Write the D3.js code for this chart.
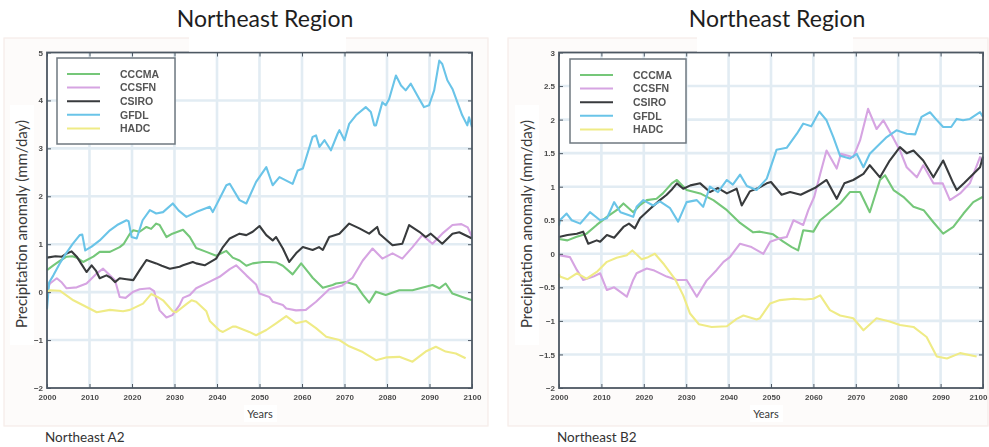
<!DOCTYPE html>
<html>
<head>
<meta charset="utf-8">
<script src="https://cdn.jsdelivr.net/npm/d3@7"></script>
<style>
  body { margin: 0; background: #ffffff; }
  svg { display: block; }
</style>
</head>
<body>
<svg id="chart" width="989" height="447"></svg>
<script>
// ---- data -------------------------------------------------------------
const seriesNames = ["CCCMA", "CCSFN", "CSIRO", "GFDL", "HADC"];
const xTicks = [2000, 2010, 2020, 2030, 2040, 2050, 2060, 2070, 2080, 2090, 2100];
const yTicksA2 = [-2, -1, 0, 1, 2, 3, 4, 5];
const yTicksB2 = [-2, -1.5, -1, -0.5, 0, 0.5, 1, 1.5, 2, 2.5, 3];

// A2 scenario: [year, precipitation anomaly mm/day]
const cccmaA2 = [[2000,0.46],[2001.5,0.56],[2003,0.65],[2004.6,0.74],[2006,0.75],[2007,0.72],[2008.5,0.63],[2010.9,0.74],[2012.4,0.84],[2014.8,0.84],[2017.1,0.94],[2018,1.0],[2019.5,1.22],[2020.3,1.29],[2021.8,1.26],[2023.4,1.36],[2024.5,1.32],[2025.7,1.43],[2026.5,1.40],[2028.1,1.15],[2029.5,1.22],[2032,1.3],[2033.6,1.15],[2035.1,0.92],[2037.5,0.84],[2039.8,0.76],[2042.2,0.86],[2043.7,0.72],[2045.3,0.66],[2046.9,0.55],[2048.4,0.6],[2050.8,0.63],[2052.3,0.63],[2053.9,0.62],[2055.5,0.55],[2057.8,0.37],[2059.8,0.60],[2061.7,0.39],[2062.5,0.3],[2064.9,0.09],[2067.2,0.15],[2068,0.18],[2070.4,0.21],[2072.7,0.15],[2074.3,-0.05],[2075.8,-0.22],[2077.4,0.01],[2079.7,-0.06],[2082.9,0.04],[2086,0.04],[2090.7,0.15],[2092.3,0.08],[2093.8,0.18],[2095.4,-0.03],[2097.7,-0.1],[2100,-0.17]];
const ccsfnA2 = [[2000,0.05],[2000.7,0.18],[2002.3,0.29],[2003.5,0.2],[2004.6,0.08],[2007,0.1],[2009.3,0.18],[2011.7,0.39],[2013.2,0.49],[2014.8,0.35],[2016,0.25],[2017.1,-0.1],[2018.5,-0.12],[2020.3,0.01],[2021.8,0.06],[2024.2,0.08],[2025.2,0.02],[2026.5,-0.38],[2028.1,-0.53],[2029.5,-0.48],[2031.2,-0.27],[2032,-0.12],[2033.6,-0.06],[2035.1,0.08],[2038.3,0.22],[2040.6,0.32],[2043,0.48],[2044.5,0.56],[2046.9,0.35],[2049.2,0.16],[2050,-0.03],[2052.3,-0.1],[2053.1,-0.2],[2055.5,-0.27],[2056.3,-0.34],[2058.6,-0.38],[2060.9,-0.37],[2063.3,-0.2],[2066.4,0.06],[2069.5,0.14],[2071.9,0.3],[2074.3,0.66],[2076.6,0.91],[2078.9,0.7],[2081.3,0.81],[2083.6,0.7],[2086,0.94],[2088.3,1.19],[2090.7,1.01],[2093,1.22],[2095.4,1.4],[2097.5,1.42],[2099,1.35],[2100,1.15]];
const csiroA2 = [[2000,0.72],[2002,0.75],[2003.5,0.74],[2004.5,0.8],[2005.8,0.85],[2007,0.74],[2008,0.6],[2009.3,0.42],[2010.5,0.56],[2011.5,0.45],[2012.4,0.29],[2014,0.35],[2015,0.3],[2016,0.21],[2017.1,0.29],[2018.7,0.27],[2020.3,0.25],[2021.8,0.46],[2023.4,0.67],[2025.7,0.60],[2027,0.55],[2028.9,0.49],[2031.2,0.53],[2032,0.56],[2034.3,0.63],[2035.1,0.60],[2037.1,0.56],[2039.8,0.70],[2041.4,0.94],[2043,1.12],[2045.3,1.22],[2046.9,1.19],[2048.4,1.26],[2050,1.38],[2051.6,1.19],[2053.1,1.08],[2053.9,1.15],[2055.5,0.91],[2057,0.63],[2058.6,0.81],[2060.2,0.94],[2062.5,0.88],[2064,0.94],[2064.9,0.88],[2066.4,1.15],[2068.8,1.22],[2071.1,1.43],[2073.5,1.33],[2075.8,1.22],[2077.7,1.36],[2078.2,1.22],[2081.3,0.98],[2083.6,1.01],[2085.2,1.40],[2087.6,1.26],[2089.1,1.15],[2090.3,1.22],[2093,1.01],[2095.4,1.22],[2097,1.25],[2099.3,1.15],[2100,1.12]];
const gfdlA2 = [[2000,-0.35],[2000.5,0.2],[2001.5,0.35],[2003,0.6],[2004.5,0.81],[2006,1.0],[2007.7,1.19],[2008.3,1.2],[2009,0.87],[2010.5,0.95],[2012.4,1.08],[2014.8,1.29],[2016.5,1.4],[2018.7,1.5],[2019.2,1.48],[2019.9,1.15],[2021.1,1.12],[2022.5,1.5],[2024.2,1.71],[2025.7,1.64],[2027.3,1.67],[2029.6,1.85],[2031,1.7],[2032.8,1.57],[2035.1,1.67],[2038.3,1.78],[2039,1.67],[2042.2,2.23],[2043,2.26],[2045.3,1.92],[2046.9,1.85],[2049.2,2.3],[2051.6,2.61],[2053.1,2.23],[2054.7,2.40],[2057.8,2.26],[2059,2.54],[2060.2,2.58],[2062.5,3.24],[2063.3,3.27],[2064.1,3.03],[2065.3,3.17],[2066.8,2.96],[2068.4,3.31],[2068.8,3.38],[2070,3.17],[2071.1,3.51],[2072.7,3.69],[2075,3.86],[2076.2,3.76],[2077,3.48],[2077.4,3.48],[2078.9,3.96],[2079.7,3.90],[2080.5,4.03],[2082.1,4.52],[2083.3,4.31],[2084.4,4.21],[2085.6,4.35],[2087.6,4.03],[2088.7,3.86],[2089.9,3.90],[2091.1,4.21],[2092.3,4.83],[2093,4.76],[2094.2,4.42],[2095.4,4.24],[2097.7,3.69],[2098.9,3.48],[2099.3,3.65],[2100,3.44]];
const hadcA2 = [[2000,0.0],[2000.7,0.04],[2003,0.03],[2006.2,-0.17],[2009.3,-0.31],[2011.7,-0.42],[2014.8,-0.37],[2017.9,-0.4],[2019.5,-0.37],[2022.6,-0.24],[2024.5,-0.04],[2026,-0.1],[2027.3,-0.17],[2029.6,-0.4],[2030.4,-0.42],[2032.8,-0.25],[2034,-0.17],[2035.1,-0.2],[2037.5,-0.4],[2038.3,-0.6],[2040.6,-0.8],[2041.4,-0.83],[2043.7,-0.72],[2044.5,-0.72],[2047.6,-0.83],[2049.2,-0.9],[2051.6,-0.79],[2053.9,-0.65],[2056.3,-0.5],[2058.6,-0.65],[2060.9,-0.6],[2063.3,-0.75],[2065.7,-0.93],[2068.8,-1.0],[2071.1,-1.13],[2074.3,-1.25],[2077.4,-1.42],[2080,-1.36],[2082.9,-1.35],[2086,-1.45],[2089.1,-1.24],[2091.5,-1.14],[2093.8,-1.24],[2096.2,-1.28],[2098.5,-1.38]];

// B2 scenario
const cccmaB2 = [[2000,0.22],[2002,0.2],[2004,0.25],[2006.5,0.3],[2008.9,0.43],[2011.3,0.55],[2013.6,0.65],[2015.2,0.75],[2017.5,0.62],[2019,0.72],[2020.7,0.8],[2023,0.82],[2024.5,0.9],[2026.6,1.05],[2027.8,1.1],[2030.1,0.95],[2033.3,0.9],[2036.4,0.8],[2039.6,0.65],[2042.7,0.46],[2045.8,0.32],[2047.4,0.33],[2050.5,0.29],[2052.9,0.18],[2054.9,0.1],[2056.4,0.05],[2057.6,0.35],[2060,0.33],[2061.6,0.5],[2063.9,0.62],[2066.3,0.75],[2068.6,0.92],[2071,0.92],[2073.3,0.62],[2075.7,1.1],[2076.9,1.17],[2078.9,0.95],[2081.2,0.85],[2083.6,0.7],[2086,0.65],[2088.3,0.47],[2090.6,0.3],[2093,0.4],[2095.4,0.6],[2097.7,0.77],[2100,0.85]];
const ccsfnB2 = [[2000,-0.02],[2002.6,-0.05],[2004.2,-0.24],[2005.7,-0.39],[2008.1,-0.34],[2009.7,-0.29],[2011.3,-0.54],[2013,-0.5],[2015.2,-0.6],[2016,-0.64],[2017.5,-0.39],[2018.3,-0.29],[2020.7,-0.22],[2022.5,-0.25],[2025.4,-0.34],[2027.8,-0.39],[2030.1,-0.39],[2032.5,-0.64],[2034.8,-0.4],[2037.2,-0.24],[2038.8,-0.12],[2040.3,-0.05],[2042.7,0.15],[2045.4,0.1],[2048.2,0.0],[2049.8,0.18],[2052.1,0.23],[2053.7,0.25],[2055.3,0.5],[2057.6,0.43],[2058.8,0.65],[2060.2,0.85],[2061.6,1.19],[2063.1,1.54],[2065.5,1.27],[2066.5,1.49],[2069.4,1.44],[2071,1.69],[2072.9,2.16],[2074.9,1.86],[2076.5,1.99],[2078.9,1.72],[2080.4,1.54],[2082,1.29],[2084.4,1.14],[2085.9,1.32],[2088.3,1.05],[2090.5,1.05],[2092.2,0.8],[2094.6,0.9],[2096.9,1.05],[2099.3,1.44],[2100,1.34]];
const csiroB2 = [[2000,0.25],[2002,0.28],[2004.2,0.3],[2005.7,0.33],[2006.9,0.15],[2008.9,0.2],[2009.7,0.18],[2011.3,0.28],[2013,0.24],[2015.2,0.4],[2016.5,0.45],[2017.9,0.38],[2019.1,0.53],[2021.5,0.67],[2023.8,0.8],[2025.4,0.88],[2026.5,0.95],[2027.8,1.05],[2029.3,0.97],[2031,1.02],[2033.3,1.05],[2035.6,0.92],[2037.5,0.98],[2039.6,0.9],[2041.9,0.97],[2043.1,0.72],[2045,0.93],[2047,0.98],[2049,1.05],[2050,1.07],[2052.5,0.88],[2054.5,0.92],[2057,0.88],[2060.3,0.98],[2063.1,1.1],[2065.5,0.82],[2067.3,1.05],[2069.4,1.1],[2071.8,1.19],[2073.3,1.32],[2075.7,1.14],[2078,1.39],[2080.4,1.59],[2082,1.5],[2083.6,1.54],[2085.9,1.39],[2088.3,1.14],[2090.6,1.39],[2093,1.05],[2093.8,0.95],[2095.5,1.05],[2097.7,1.19],[2099.3,1.29],[2100,1.45]];
const gfdlB2 = [[2000,0.42],[2000.2,0.5],[2001.8,0.6],[2003,0.5],[2005,0.45],[2007.3,0.62],[2009.7,0.5],[2011.3,0.53],[2013,0.77],[2014.5,0.62],[2016.7,0.57],[2017.5,0.55],[2018.3,0.7],[2019.9,0.8],[2022.2,0.72],[2023.8,0.78],[2026.2,0.68],[2028.1,0.48],[2030.1,0.77],[2032.5,0.8],[2034,0.7],[2035.6,1.0],[2037.5,0.92],[2039.6,1.1],[2041,1.03],[2042.7,1.18],[2044.3,1.01],[2046.6,0.95],[2049,1.12],[2051.3,1.55],[2053.7,1.58],[2056.1,1.79],[2057.6,1.94],[2059.5,1.9],[2061.4,2.12],[2063.1,1.99],[2064.7,1.74],[2066.3,1.46],[2068.6,1.42],[2070.2,1.49],[2071.8,1.29],[2073.3,1.49],[2074.9,1.59],[2077.3,1.74],[2079.6,1.84],[2082,1.79],[2084,1.78],[2085.5,2.04],[2087.5,2.11],[2089,2.0],[2090.6,1.89],[2092.5,1.89],[2093.8,2.01],[2095.3,1.99],[2096.9,2.01],[2099.3,2.11],[2100,2.04]];
const hadcB2 = [[2000,-0.3],[2000.2,-0.34],[2002,-0.38],[2004.2,-0.29],[2006.5,-0.37],[2008.9,-0.27],[2011.3,-0.12],[2013.6,-0.06],[2016,-0.02],[2017.3,0.05],[2019.5,-0.08],[2021,-0.05],[2022.6,0.0],[2024.8,-0.16],[2027.4,-0.38],[2029.3,-0.62],[2030.9,-0.89],[2033,-1.05],[2036,-1.09],[2039.6,-1.08],[2041.9,-0.97],[2043.5,-0.92],[2046.6,-0.98],[2047.4,-0.96],[2049.8,-0.74],[2052.1,-0.69],[2055.3,-0.67],[2058,-0.68],[2060,-0.67],[2061.6,-0.62],[2063.9,-0.84],[2066.3,-0.92],[2069.4,-0.96],[2071.8,-1.14],[2074.9,-0.96],[2078,-1.01],[2080.4,-1.06],[2083.6,-1.09],[2086.7,-1.24],[2089.1,-1.53],[2091.5,-1.56],[2094.6,-1.48],[2098.5,-1.53]];

// ---- styling ------------------------------------------------------------
const seriesColors = ["#74c779", "#d6a4e2", "#383a3c", "#6ac4e8", "#efeb86"];
const labelFont = "Lato, 'Open Sans', sans-serif";
const tickFont = "'Liberation Sans', Arial, sans-serif";

const svg = d3.select("#chart");
const defs = svg.append("defs");
defs.append("filter").attr("id", "soft")
  .attr("x", "-2%").attr("y", "-2%").attr("width", "104%").attr("height", "104%")
  .append("feGaussianBlur").attr("stdDeviation", 0.65);

const panels = [
  {
    title: "Northeast Region", caption: "Northeast A2",
    series: [cccmaA2, ccsfnA2, csiroA2, gfdlA2, hadcA2],
    yDomain: [-2, 5], yTicks: yTicksA2,
    left: 47, right: 472, top: 52.5, bottom: 388,
    titleX: 265, mask: [189, 346], ylabX: 22, yearsX: 260,
    legend: { x: 57, y: 58, w: 118, h: 86 }, captionX: 45,
    frame: [4, 38, 484, 388], lastTickShift: 0
  },
  {
    title: "Northeast Region", caption: "Northeast B2",
    series: [cccmaB2, ccsfnB2, csiroB2, gfdlB2, hadcB2],
    yDomain: [-2, 3], yTicks: yTicksB2,
    left: 559, right: 983, top: 52.5, bottom: 388,
    titleX: 777, mask: [697, 853], ylabX: 527, yearsX: 766,
    legend: { x: 570, y: 59, w: 116, h: 84 }, captionX: 557,
    frame: [508, 38, 480, 388], lastTickShift: -5
  }
];

panels.forEach(drawPanel);

function drawPanel(p) {
  const x = d3.scaleLinear().domain([2000, 2100]).range([p.left, p.right]);
  const y = d3.scaleLinear().domain(p.yDomain).range([p.bottom, p.top]);
  const g = svg.append("g");

  // faint plate behind the figure
  g.append("rect")
    .attr("x", p.frame[0]).attr("y", p.frame[1])
    .attr("width", p.frame[2]).attr("height", p.frame[3])
    .attr("fill", "#fdfbfa").attr("stroke", "#f6ece8").attr("stroke-width", 1.2);

  const plot = g.append("g").attr("filter", "url(#soft)");

  plot.append("rect")
    .attr("x", p.left).attr("y", p.top)
    .attr("width", p.right - p.left).attr("height", p.bottom - p.top)
    .attr("fill", "#ffffff");

  // grid
  plot.append("g").selectAll("line").data(xTicks.slice(1, -1)).join("line")
    .attr("x1", d => x(d)).attr("x2", d => x(d))
    .attr("y1", p.top).attr("y2", p.bottom)
    .attr("stroke", "#e2ecf3").attr("stroke-width", 2.6);
  plot.append("g").selectAll("line").data(p.yTicks.slice(1, -1)).join("line")
    .attr("x1", p.left).attr("x2", p.right)
    .attr("y1", d => y(d)).attr("y2", d => y(d))
    .attr("stroke", "#e2ecf3").attr("stroke-width", 2.6);

  // series
  const line = d3.line().x(d => x(d[0])).y(d => y(d[1]));
  plot.append("g").selectAll("path").data(p.series).join("path")
    .attr("d", line)
    .attr("fill", "none")
    .attr("stroke", (d, i) => seriesColors[i])
    .attr("stroke-width", 2.1)
    .attr("stroke-linejoin", "round");

  // axes with inward ticks on all four sides
  const styleAxis = sel => {
    sel.select(".domain").remove();
    sel.selectAll(".tick line").attr("stroke", "#4d5863").attr("stroke-width", 1);
    sel.selectAll("text").attr("fill", "#4b4b4b")
      .attr("font-family", tickFont).attr("font-size", 8).attr("font-weight", "bold");
  };
  const bottomAxis = plot.append("g").attr("transform", `translate(0,${p.bottom})`)
    .call(d3.axisBottom(x).tickValues(xTicks).tickFormat(d3.format("d"))
      .tickSizeInner(-4).tickSizeOuter(0).tickPadding(6))
    .call(styleAxis);
  bottomAxis.selectAll(".tick").filter(d => d === 2100).select("text")
    .attr("dx", p.lastTickShift);
  plot.append("g").attr("transform", `translate(0,${p.top})`)
    .call(d3.axisTop(x).tickValues(xTicks).tickFormat("").tickSizeInner(-4).tickSizeOuter(0))
    .call(styleAxis);
  plot.append("g").attr("transform", `translate(${p.left},0)`)
    .call(d3.axisLeft(y).tickValues(p.yTicks).tickFormat(d3.format("")).tickSizeInner(-4)
      .tickSizeOuter(0).tickPadding(4))
    .call(styleAxis);
  plot.append("g").attr("transform", `translate(${p.right},0)`)
    .call(d3.axisRight(y).tickValues(p.yTicks).tickFormat("").tickSizeInner(-4).tickSizeOuter(0))
    .call(styleAxis);

  // box
  plot.append("rect")
    .attr("x", p.left).attr("y", p.top)
    .attr("width", p.right - p.left).attr("height", p.bottom - p.top)
    .attr("fill", "none").attr("stroke", "#4d5863").attr("stroke-width", 1.8);

  // legend
  const L = p.legend;
  const lg = plot.append("g");
  lg.append("rect").attr("x", L.x).attr("y", L.y).attr("width", L.w).attr("height", L.h)
    .attr("fill", "#ffffff").attr("stroke", "#6f7880").attr("stroke-width", 1.5);
  const rows = lg.selectAll("g.row").data(seriesNames).join("g").attr("class", "row")
    .attr("transform", (d, i) => `translate(${L.x},${L.y + 16 + i * 13.6})`);
  rows.append("line").attr("x1", 10).attr("x2", 43).attr("y1", 0).attr("y2", 0)
    .attr("stroke", (d, i) => seriesColors[i]).attr("stroke-width", 2);
  rows.append("text").attr("x", 63).attr("y", 0).attr("dy", "0.36em")
    .attr("font-family", tickFont).attr("font-size", 10.5).attr("font-weight", "bold")
    .attr("fill", "#555555").text(d => d);

  // axis titles on white tabs
  g.append("rect").attr("x", p.ylabX - 12).attr("y", 105).attr("width", 24).attr("height", 240)
    .attr("fill", "#ffffff");
  g.append("text")
    .attr("transform", `translate(${p.ylabX},${224}) rotate(-90)`)
    .attr("text-anchor", "middle").attr("dy", "0.35em")
    .attr("font-family", labelFont).attr("font-size", 15).attr("fill", "#3a3a3a")
    .text("Precipitation anomaly (mm/day)");

  g.append("rect").attr("x", p.yearsX - 16).attr("y", 405).attr("width", 33).attr("height", 17)
    .attr("fill", "#ffffff");
  g.append("text").attr("x", p.yearsX).attr("y", 414).attr("dy", "0.35em")
    .attr("text-anchor", "middle")
    .attr("font-family", labelFont).attr("font-size", 11).attr("fill", "#3a3a3a")
    .text("Years");

  // title with its white band
  g.append("rect").attr("x", p.mask[0]).attr("y", 34)
    .attr("width", p.mask[1] - p.mask[0]).attr("height", 17.5).attr("fill", "#ffffff");
  g.append("text").attr("x", p.titleX).attr("y", 27)
    .attr("text-anchor", "middle")
    .attr("font-family", labelFont).attr("font-size", 23).attr("fill", "#1e1e1e")
    .text(p.title);

  g.append("text").attr("x", p.captionX).attr("y", 442)
    .attr("font-family", labelFont).attr("font-size", 13.5).attr("fill", "#333333")
    .text(p.caption);
}
</script>
</body>
</html>
